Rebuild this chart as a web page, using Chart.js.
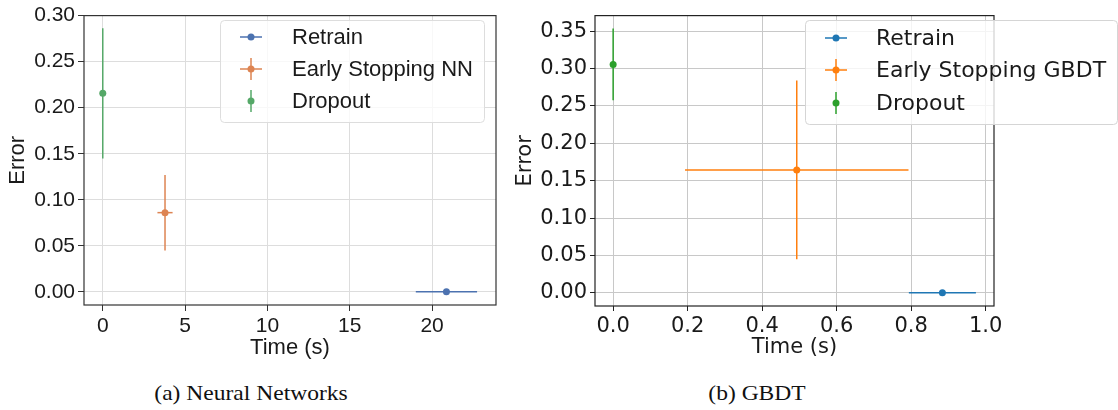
<!DOCTYPE html>
<html>
<head>
<meta charset="utf-8">
<script src="https://cdn.jsdelivr.net/npm/chart.js@4.4.1/dist/chart.umd.min.js"></script>
<style>
  body { margin: 0; background: #fff; width: 1118px; height: 410px; position: relative; overflow: hidden; }
  canvas { position: absolute; top: 0; }
  #cNN { left: 0; }
  #cGB { left: 510px; }
  .cap {
    position: absolute; top: 381px; font-family: "Liberation Serif", "Times New Roman", serif;
    font-size: 21px; color: #111; transform: translateX(-50%) scaleX(1.12); white-space: nowrap;
  }
</style>
</head>
<body>
<canvas id="cNN" width="510" height="370"></canvas>
<canvas id="cGB" width="608" height="370"></canvas>
<div class="cap" style="left:251px">(a) Neural Networks</div>
<div class="cap" style="left:757px">(b) GBDT</div>
<script>

// ---- data ----
const methodsNN = ["Retrain", "Early Stopping NN", "Dropout"];
const timeNN = [20.87, 3.78, 0.0];
const timeErrNN = [1.86, 0.46, 0.0];
const errorNN = [0.0, 0.086, 0.2156];
const errorErrNN = [0.0, 0.041, 0.0707];
const xTicksNN = [0, 5, 10, 15, 20];
const yTicksNN = [0.00, 0.05, 0.10, 0.15, 0.20, 0.25, 0.30];

const methodsGB = ["Retrain", "Early Stopping GBDT", "Dropout"];
const timeGB = [0.884, 0.493, 0.0];
const timeErrGB = [0.09, 0.30, 0.0];
const errorGB = [0.0, 0.1644, 0.3056];
const errorErrGB = [0.0, 0.1196, 0.048];
const xTicksGB = [0.0, 0.2, 0.4, 0.6, 0.8, 1.0];
const yTicksGB = [0.00, 0.05, 0.10, 0.15, 0.20, 0.25, 0.30, 0.35];

const colorsNN = ["#4c72b0", "#dd8452", "#55a868"];
const colorsGB = ["#1f77b4", "#ff7f0e", "#2ca02c"];

// error bars drawn from the scales
const errorBars = {
  id: "errorBars",
  beforeDatasetsDraw(chart) {
    const ctx = chart.ctx;
    const xs = chart.scales.x;
    const ys = chart.scales.y;
    ctx.save();
    chart.data.datasets.forEach(ds => {
      ds.data.forEach(p => {
        ctx.strokeStyle = ds.backgroundColor;
        ctx.lineWidth = 1.5;
        if (p.xErr > 0) {
          ctx.beginPath();
          ctx.moveTo(xs.getPixelForValue(p.x - p.xErr), ys.getPixelForValue(p.y));
          ctx.lineTo(xs.getPixelForValue(p.x + p.xErr), ys.getPixelForValue(p.y));
          ctx.stroke();
        }
        if (p.yErr > 0) {
          ctx.beginPath();
          ctx.moveTo(xs.getPixelForValue(p.x), ys.getPixelForValue(p.y - p.yErr));
          ctx.lineTo(xs.getPixelForValue(p.x), ys.getPixelForValue(p.y + p.yErr));
          ctx.stroke();
        }
      });
    });
    ctx.restore();
  }
};

// full box + legend
const frameAndLegend = {
  id: "frameAndLegend",
  afterDraw(chart, args, opts) {
    const ctx = chart.ctx;
    const a = chart.chartArea;
    ctx.save();
    ctx.strokeStyle = opts.spine;
    ctx.lineWidth = 1.2;
    ctx.strokeRect(a.left, a.top, a.right - a.left, a.bottom - a.top);

    const b = opts.box;
    ctx.beginPath();
    ctx.roundRect(b[0] + 0.5, b[1] + 0.5, b[2] - b[0], b[3] - b[1], 4);
    ctx.fillStyle = "rgba(255,255,255,0.8)";
    ctx.fill();
    ctx.strokeStyle = opts.boxColor;
    ctx.lineWidth = 1;
    ctx.stroke();

    ctx.font = opts.font;
    ctx.textBaseline = "middle";
    chart.data.datasets.forEach((ds, i) => {
      const y = opts.rows[i];
      const x = opts.markX;
      const p = ds.data[0];
      ctx.strokeStyle = ds.backgroundColor;
      ctx.lineWidth = 1.5;
      if (p.xErr > 0) {
        ctx.beginPath(); ctx.moveTo(x - 11, y); ctx.lineTo(x + 11, y); ctx.stroke();
      }
      if (p.yErr > 0) {
        ctx.beginPath(); ctx.moveTo(x, y - 11); ctx.lineTo(x, y + 11); ctx.stroke();
      }
      ctx.fillStyle = ds.backgroundColor;
      ctx.beginPath(); ctx.arc(x, y, 3.5, 0, Math.PI * 2); ctx.fill();
      ctx.fillStyle = "#1a1a1a";
      ctx.fillText(ds.label, opts.textX, y + 1);
    });
    ctx.restore();
  }
};

function makeChart(id, cfg) {
  const datasets = cfg.methods.map((m, i) => ({
    label: m,
    data: [{ x: cfg.time[i], y: cfg.err[i], xErr: cfg.timeErr[i], yErr: cfg.errErr[i] }],
    backgroundColor: cfg.colors[i],
    pointRadius: 3.5,
    pointHoverRadius: 3.5,
    borderWidth: 0
  }));

  const tickFont = { family: cfg.family, size: 21 };
  const titleFont = { family: cfg.family, size: cfg.titleSize };

  return new Chart(document.getElementById(id), {
    type: "scatter",
    data: { datasets: datasets },
    options: {
      responsive: false,
      animation: false,
      layout: { padding: { left: 0, top: cfg.padTop, right: cfg.padRight, bottom: 0 } },
      plugins: {
        legend: { display: false },
        tooltip: { enabled: false },
        frameAndLegend: cfg.legend
      },
      scales: {
        x: {
          type: "linear",
          min: cfg.xMin,
          max: cfg.xMax,
          afterBuildTicks: s => { s.ticks = cfg.xTicks.map(v => ({ value: v })); },
          afterFit: s => { s.height = cfg.xAxisH; },
          ticks: {
            autoSkip: false, maxRotation: 0, padding: 3, color: "#1a1a1a", font: tickFont,
            callback: v => v.toFixed(cfg.xDigits)
          },
          grid: { color: cfg.gridColor, tickColor: cfg.spine, tickLength: cfg.tickLen, lineWidth: 1 },
          border: { display: false },
          title: { display: true, text: "Time (s)", color: "#1a1a1a", font: titleFont, padding: { top: 0, bottom: cfg.xTitlePad } }
        },
        y: {
          type: "linear",
          min: cfg.yMin,
          max: cfg.yMax,
          afterBuildTicks: s => { s.ticks = cfg.yTicks.map(v => ({ value: v })); },
          afterFit: s => { s.width = cfg.yAxisW; },
          ticks: {
            autoSkip: false, padding: 3, color: "#1a1a1a", font: tickFont,
            callback: v => v.toFixed(2)
          },
          grid: { color: cfg.gridColor, tickColor: cfg.spine, tickLength: cfg.tickLen, lineWidth: 1 },
          border: { display: false },
          title: { display: true, text: "Error", color: "#1a1a1a", font: titleFont, padding: { top: cfg.yTitlePad, bottom: 0 } }
        }
      }
    },
    plugins: [errorBars, frameAndLegend]
  });
}

makeChart("cNN", {
  methods: methodsNN, time: timeNN, timeErr: timeErrNN, err: errorNN, errErr: errorErrNN,
  colors: colorsNN, family: "'Liberation Sans', Arial, sans-serif", titleSize: 22,
  xMin: -1.14, xMax: 23.88, yMin: -0.0143, yMax: 0.30,
  xTicks: xTicksNN, yTicks: yTicksNN, xDigits: 0,
  padTop: 9, padRight: 14, xAxisH: 65, yAxisW: 84, tickLen: 6,
  xTitlePad: 9, yTitlePad: 5,
  gridColor: "#dddddd", spine: "#333333",
  legend: {
    spine: "#333333", box: [220, 20, 484, 122], boxColor: "#dddddd",
    font: "22px 'Liberation Sans', Arial, sans-serif",
    rows: [37, 69, 101], markX: 251, textX: 292
  }
});

makeChart("cGB", {
  methods: methodsGB, time: timeGB, timeErr: timeErrGB, err: errorGB, errErr: errorErrGB,
  colors: colorsGB, family: "'DejaVu Sans', sans-serif", titleSize: 21,
  xMin: -0.0487, xMax: 1.0226, yMin: -0.0177, yMax: 0.371,
  xTicks: xTicksGB, yTicks: yTicksGB, xDigits: 1,
  padTop: 8, padRight: 124, xAxisH: 64, yAxisW: 85, tickLen: 5,
  xTitlePad: 10, yTitlePad: 3,
  gridColor: "#c8c8c8", spine: "#222222",
  legend: {
    spine: "#222222", box: [295, 20, 607, 124], boxColor: "#d5d5d5",
    font: "22px 'DejaVu Sans', sans-serif",
    rows: [38, 70, 103], markX: 326, textX: 366
  }
});
</script>
</body>
</html>
